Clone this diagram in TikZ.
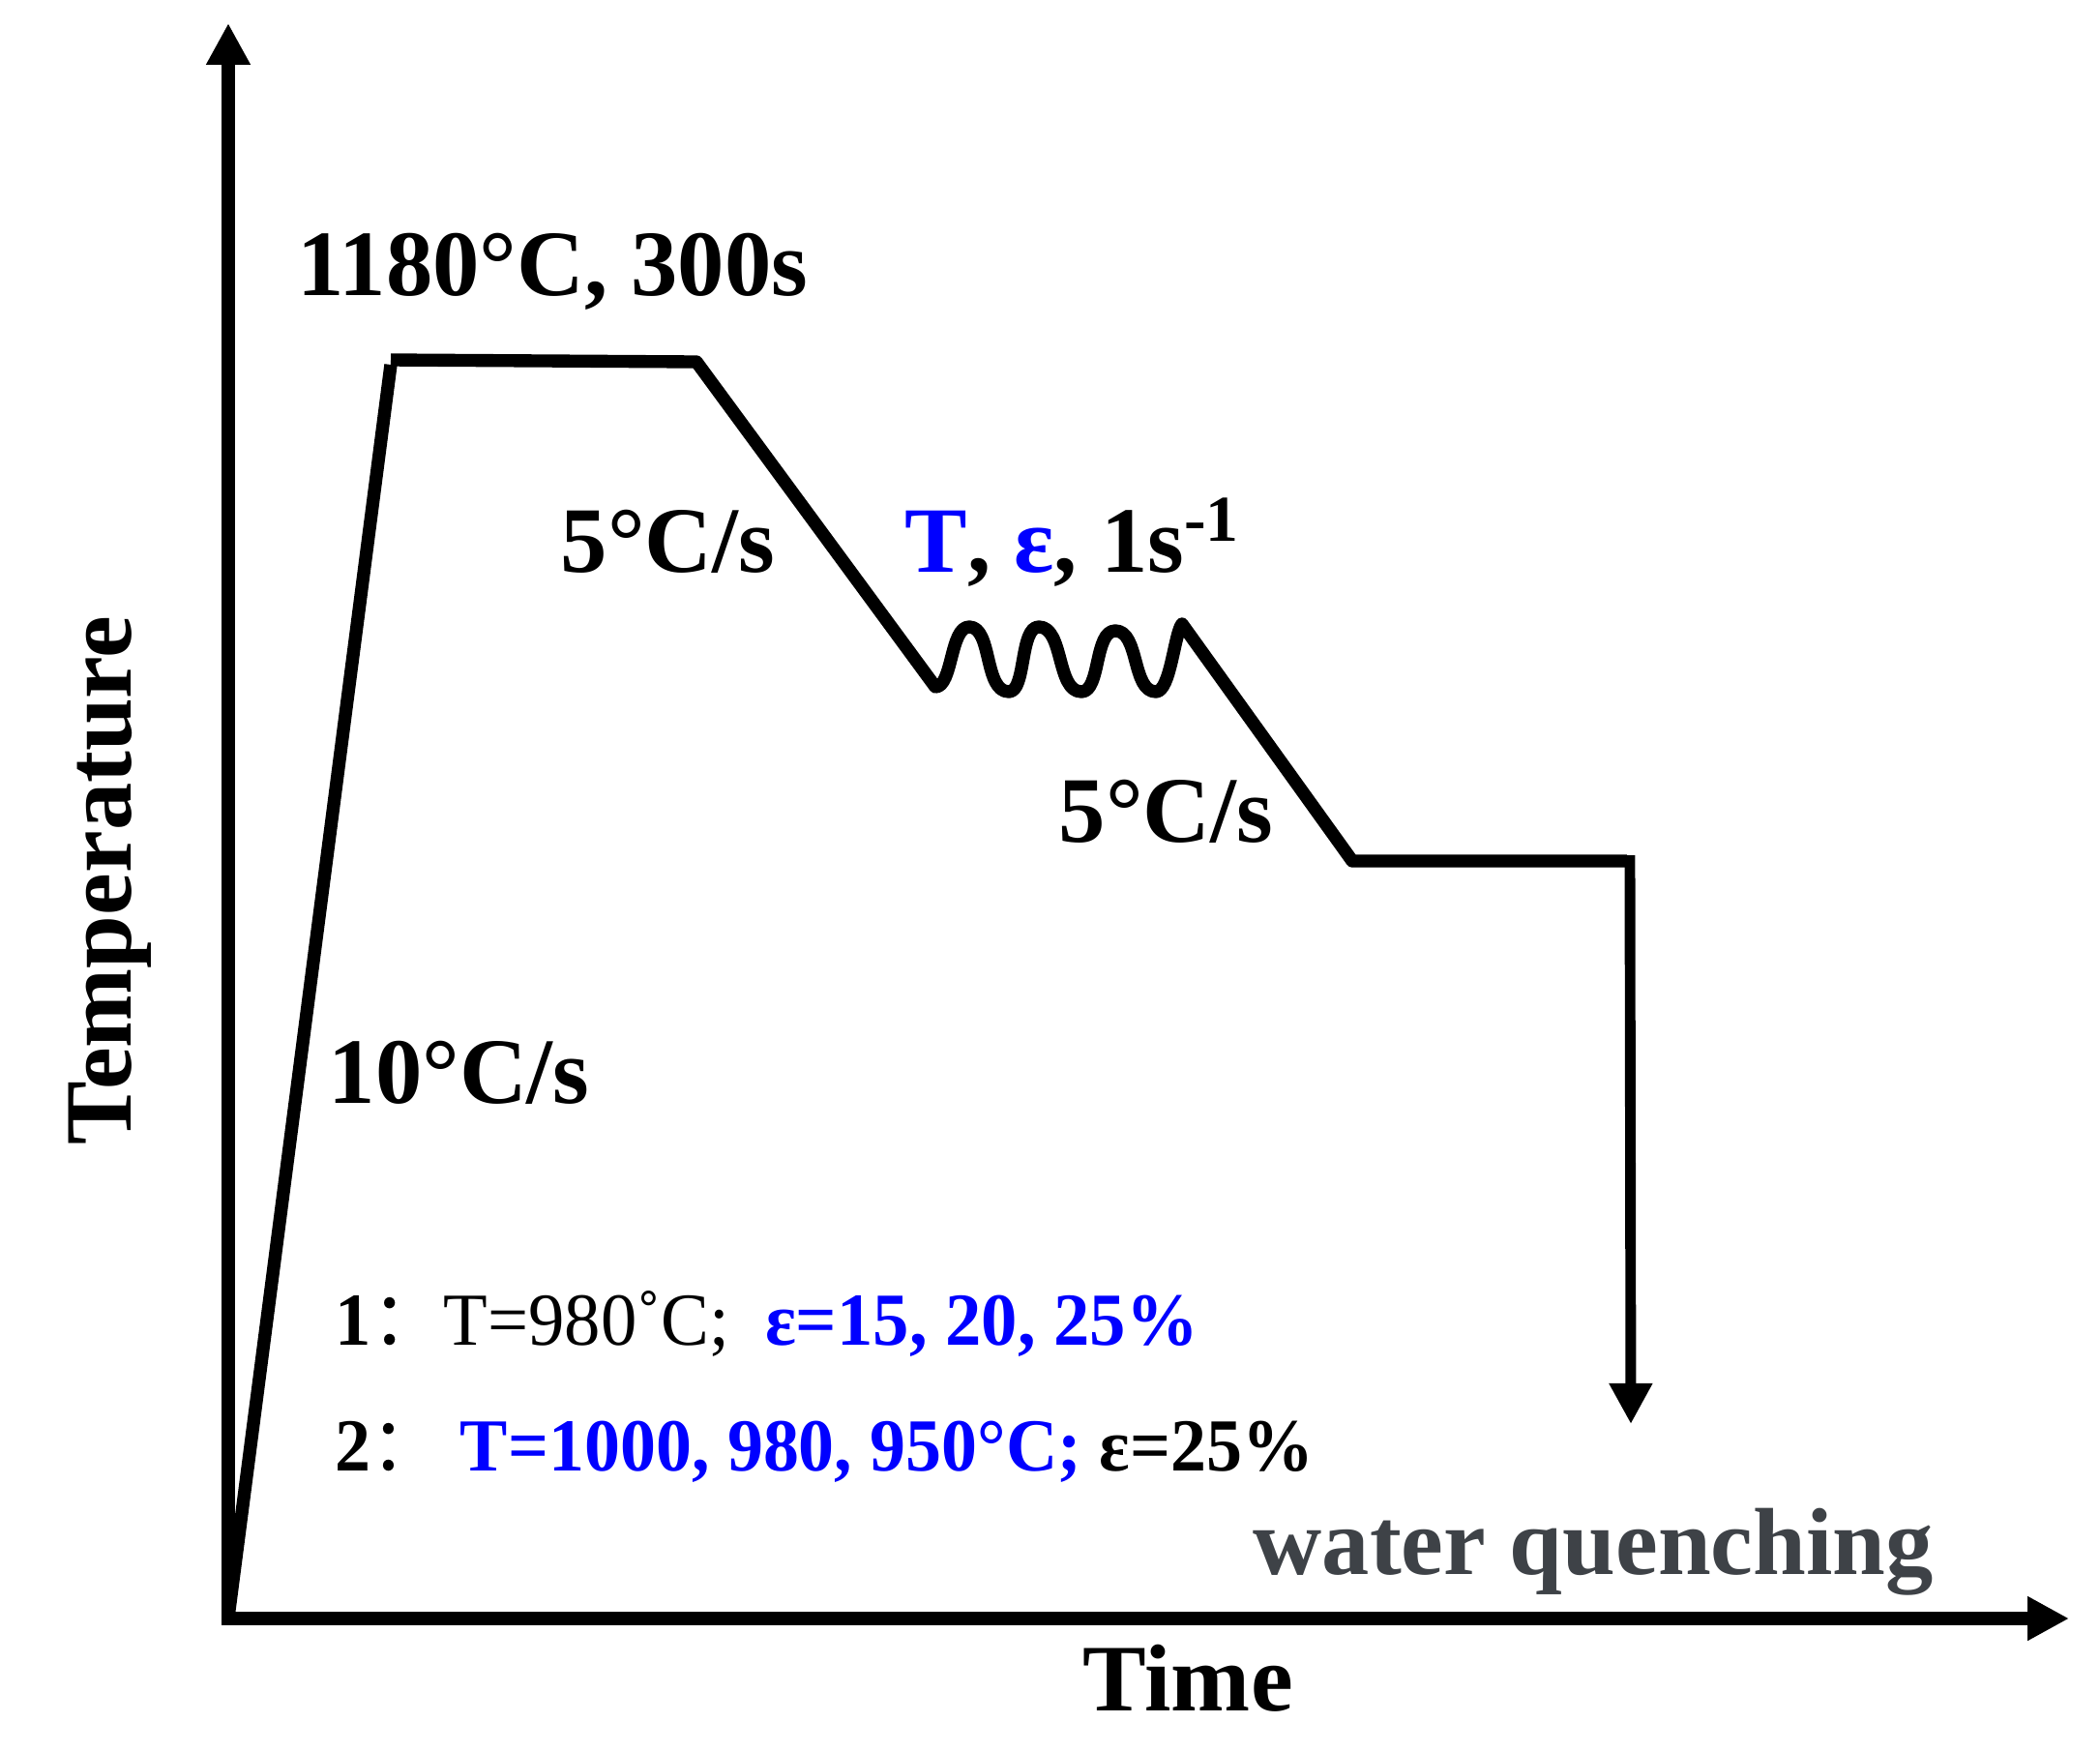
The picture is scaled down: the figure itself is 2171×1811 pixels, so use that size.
\documentclass[tikz,border=0pt]{standalone}
\usepackage{fontspec}
\setmainfont{Liberation Serif}
\newfontfamily\cjkfont{Noto Sans CJK SC}
\usetikzlibrary{arrows.meta}
\definecolor{wqgray}{RGB}{62,66,71}
\begin{document}
\begin{tikzpicture}[x=0.01cm,y=-0.01cm,
  curve/.style={line width=3.8pt},
  axisline/.style={line width=3.9pt,-{Triangle[length=12.2pt,width=12.2pt]}},
  quench/.style={line width=3.1pt,-{Triangle[length=12pt,width=12pt]}},
  lbl/.style={font=\fontsize{27.5}{31}\selectfont\bfseries,inner sep=0pt,anchor=base west},
  note/.style={font=\fontsize{22}{26}\selectfont,inner sep=0pt,anchor=base west},
  axlbl/.style={font=\fontsize{28}{32}\selectfont\bfseries,inner sep=0pt}]
\useasboundingbox (0,0) rectangle (2171,1811);
% coordinates
\coordinate (O) at (236,1672);
\coordinate (Ytop) at (236,24);
\coordinate (Xstart) at (229,1673);
\coordinate (Xend) at (2139,1673);
\coordinate (H1) at (404,377);
\coordinate (P1) at (404,372);
\coordinate (P2) at (720,374);
\coordinate (V1) at (967,710);
\coordinate (T1) at (1002,648);
\coordinate (V2) at (1043,715);
\coordinate (T2) at (1074,648);
\coordinate (V3) at (1118,715);
\coordinate (T3) at (1153,652);
\coordinate (V4) at (1195,715);
\coordinate (T4) at (1222,645);
\coordinate (C2) at (1398,890);
\coordinate (Q0) at (1682,890);
\coordinate (Qtop) at (1685,884);
\coordinate (Q1) at (1686,1472);
% axes
\draw[axisline] (O) -- (Ytop);
\draw[axisline] (Xstart) -- (Xend);
% profile
\draw[curve] (O) -- (H1);
\draw[curve,line join=round] (P1) -- (P2) -- (V1)
  .. controls +(18,0) and +(-20,0) .. (T1)
  .. controls +(24,0) and +(-26,0) .. (V2)
  .. controls +(18,0) and +(-20,0) .. (T2)
  .. controls +(26,0) and +(-26,0) .. (V3)
  .. controls +(20,0) and +(-22,0) .. (T3)
  .. controls +(25,0) and +(-25,0) .. (V4)
  .. controls +(15,0) and +(-8,10) .. (T4)
  -- (C2) -- (Q0);
\draw[quench] (Qtop) -- (Q1);
% labels
\node[lbl] (hold) at (307,305) {1180°C, 300s};
\node[lbl] (rate1) at (579,591) {5°C/s};
\node[lbl] (defm) at (935,591) {\textcolor{blue}{T}, \textcolor{blue}{ε}, 1s\textsuperscript{-1}};
\node[lbl] (rate2) at (1094,870) {5°C/s};
\node[lbl] (rate0) at (339,1140) {10°C/s};
\node[note] (case1) at (346,1390) {\scalebox{0.965}[1]{\textbf{1}{\cjkfont ：}T=980˚C;\ \ \textcolor{blue}{\textbf{ε=15, 20, 25\%}}}};
\node[note] (case2) at (346,1520) {\scalebox{0.955}[1]{\textbf{2}{\cjkfont ：}\ \textcolor{blue}{\textbf{T=1000, 980, 950°C;}} \textbf{ε=25\%}}};
\node[axlbl,anchor=base west,text=wqgray] (wq) at (1295,1627) {water quenching};
\node[axlbl,anchor=base west] (time) at (1119,1768) {Time};
\node[axlbl,rotate=90,anchor=base] (temp) at (136,910) {Temperature};
\end{tikzpicture}
\end{document}
